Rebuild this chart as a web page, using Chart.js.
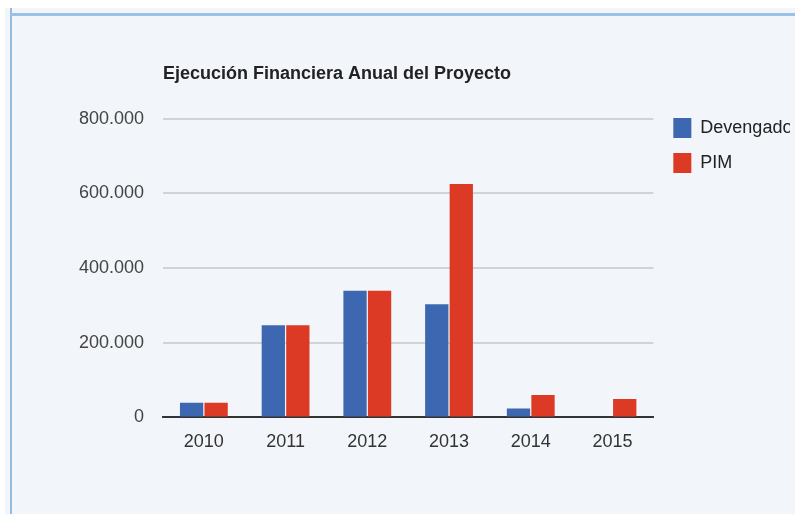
<!DOCTYPE html>
<html>
<head>
  <meta charset="utf-8">
  <title>Ejecución Financiera Anual del Proyecto</title>
  <script src="https://cdn.jsdelivr.net/npm/chart.js"></script>
  <style>
    html, body { margin: 0; padding: 0; background: #ffffff; overflow: hidden; }
    body { width: 795px; height: 514px; position: relative; }
    .panel { position: absolute; left: 5px; top: 8px; right: 0; bottom: 0; background: #f2f5f9; }
    .edge-left { position: absolute; left: 10px; top: 8px; width: 2px; bottom: 0; background: #93bce3; }
    .edge-top { position: absolute; left: 10px; top: 13px; right: 0; height: 3px; background: #9dc1e5; }
    .clip { position: absolute; left: 0; top: 0; width: 795px; height: 514px; overflow: hidden; }
    canvas { position: absolute; left: 0; top: 0; }
  </style>
</head>
<body>
  <div class="panel"></div>
  <div class="edge-left"></div>
  <div class="edge-top"></div>
  <div class="clip">
    <canvas id="barChart" width="798" height="514"></canvas>
  </div>

  <script>
    const years = ["2010", "2011", "2012", "2013", "2014", "2015"];
    const devengado = [39000, 247000, 339000, 303000, 24000, null];
    const pim = [39000, 247000, 339000, 625000, 60000, 49000];
    const yTicks = [0, 200000, 400000, 600000, 800000];

    const fontFamily = "'Liberation Sans', Arial, sans-serif";

    function withDots(value) {
      return String(value).replace(/\B(?=(\d{3})+(?!\d))/g, ".");
    }

    const ctx = document.getElementById("barChart").getContext("2d");

    new Chart(ctx, {
      type: "bar",
      data: {
        labels: years,
        datasets: [
          {
            label: "Devengado",
            data: devengado,
            backgroundColor: "#3e67b1",
            categoryPercentage: 0.6,
            barPercentage: 0.95,
          },
          {
            label: "PIM",
            data: pim,
            backgroundColor: "#dc3a24",
            categoryPercentage: 0.6,
            barPercentage: 0.95,
          },
        ],
      },
      options: {
        responsive: false,
        animation: false,
        // legend width is capped at availableWidth / 6, which also clips "Devengado" like the original
        layout: { padding: { left: 0, right: 8, top: 0, bottom: 47 } },
        plugins: {
          title: {
            display: true,
            text: "Ejecución Financiera Anual del Proyecto",
            align: "start",
            fullSize: false,
            color: "#222222",
            font: { family: fontFamily, size: 18, weight: "bold", lineHeight: 1.2 },
            padding: { top: 63, bottom: 34 },
          },
          legend: {
            position: "right",
            align: "start",
            fullSize: true,
            title: { display: true, text: " ", font: { size: 10, lineHeight: 1 }, padding: { top: 93, bottom: 0 } },
            labels: {
              boxWidth: 18,
              boxHeight: 20,
              padding: 15,
              color: "#222222",
              font: { family: fontFamily, size: 18 },
            },
          },
          tooltip: { enabled: false },
        },
        scales: {
          x: {
            grid: { display: false, drawTicks: false },
            border: { display: true, color: "#333333", width: 2 },
            ticks: { color: "#333333", padding: 14, font: { family: fontFamily, size: 18 } },
          },
          y: {
            min: 0,
            max: 800000,
            afterBuildTicks: (scale) => { scale.ticks = yTicks.map((v) => ({ value: v })); },
            afterFit: (scale) => { scale.width = 163; },
            grid: { color: "#d3d3d3", lineWidth: 2, drawTicks: false },
            border: { display: false },
            ticks: {
              color: "#444444",
              padding: 19,
              font: { family: fontFamily, size: 18 },
              callback: (value) => withDots(value),
            },
          },
          gap: {
            position: "right",
            display: true,
            grid: { display: false, drawTicks: false },
            border: { display: false },
            ticks: { display: false },
            afterFit: (scale) => { scale.width = 5; },
          },
        },
      },
    });
  </script>
</body>
</html>
